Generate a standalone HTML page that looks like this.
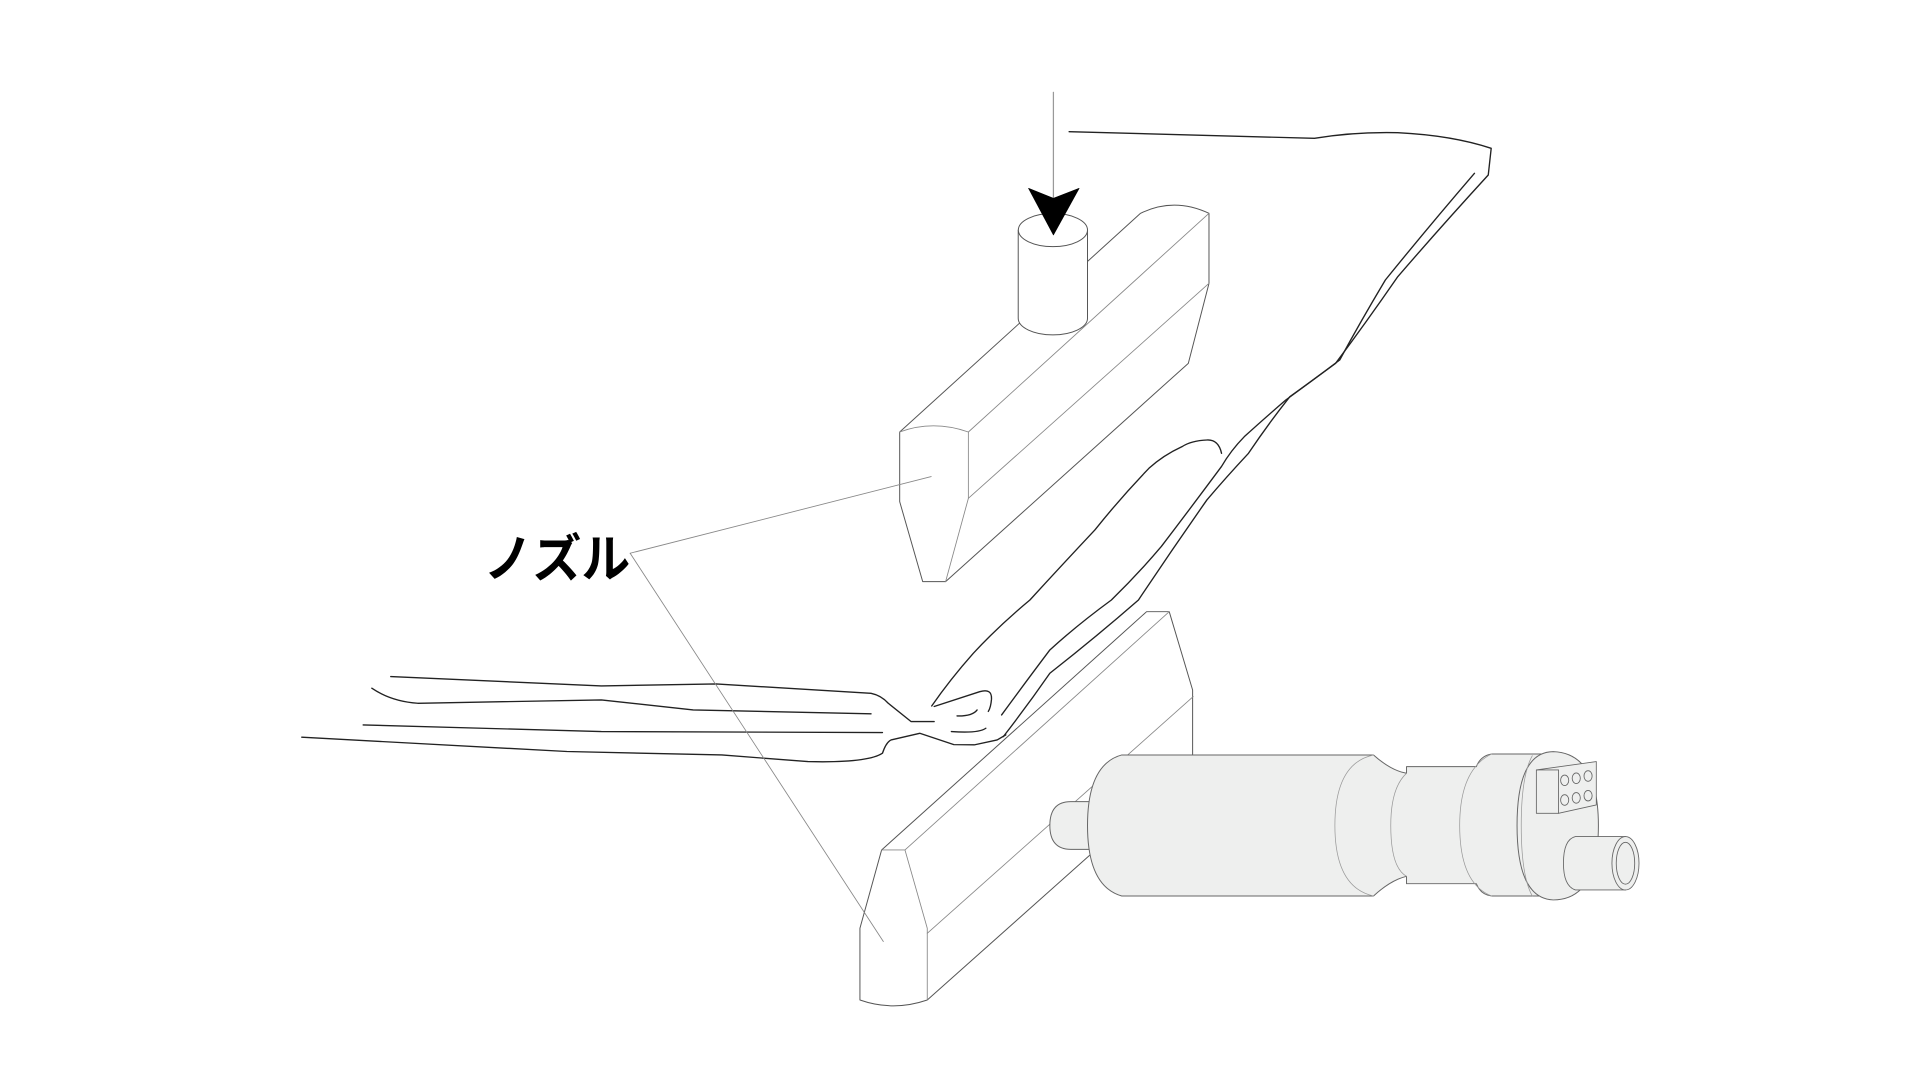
<!DOCTYPE html>
<html><head><meta charset="utf-8"><style>
html,body{margin:0;padding:0;background:#fff;width:1920px;height:1080px;overflow:hidden}
svg{display:block}
</style></head><body>
<svg width="1920" height="1080" viewBox="0 0 1560 877.5" preserveAspectRatio="none" xmlns="http://www.w3.org/2000/svg">
<g fill="none" stroke-linecap="round" stroke-linejoin="round">
<g stroke="#555" stroke-width="0.8" fill="#fff">
<path d="M731,351 L926.7,173.3 Q953.7,160 982.3,173.3 L982.3,230.2 L965.5,295.2 L768.3,472.6 L749.7,472.6 L731,407.6 Z"/>
</g>
<g stroke="#888" stroke-width="0.7">
<path d="M731,351 Q758,341 786.8,351 L786.8,404.9 L768.3,472.6"/>
<path d="M786.8,351 L982.3,173.3"/>
<path d="M786.8,404.9 L982.3,230.2"/>
</g>
<g stroke="#555" stroke-width="0.8" fill="#fff">
<path d="M827.3,186.9 L827.3,258.6 A28.1,13.5 0 0 0 883.6,258.6 L883.6,186.9"/>
<ellipse cx="855.5" cy="186.9" rx="28.1" ry="13.5"/>
</g>
<line x1="855.9" y1="75" x2="855.9" y2="165" stroke="#999" stroke-width="1"/>
<path d="M835.7,153 L855.9,161.1 L876.8,153 L855.9,190.9 Z" fill="#000" stroke="#000" stroke-width="0.5"/>
<g stroke="#555" stroke-width="0.8" fill="#fff">
<path d="M716.3,690.6 L931.6,497 L950,497 L969,560.6 L969,613.4 L885.6,694.7 L753.4,812.5 Q725.8,822 698.7,812.5 L698.7,754.2 Z"/>
</g>
<g stroke="#888" stroke-width="0.7">
<path d="M716.3,690.6 L735.3,690.6 L753.4,754.2 L753.4,812.5"/>
<path d="M735.3,690.6 L950,497"/>
<path d="M753.4,758.3 L969.5,566"/>
</g>
<g stroke="#222" stroke-width="1.1">
<path d="M868.7,107 L1068,112.4 Q1100,107 1135.7,107.8 Q1180,110 1211.6,120.5 L1209.2,142.2 Q1170,185 1135.7,224.8 Q1110,262 1085.2,295.2 Q1065,310 1044.7,325 Q1025,342 1011,354.8 Q1000,366 992.5,379 Q968,412 943.6,444 Q925,466 903,487.5 Q875,508 853,528.1 Q832,556 813.8,580.9"/>
<path d="M1198,140.8 Q1160,185 1125.6,227.5 Q1105,262 1088.5,292.5 Q1068,308 1048,322.3 Q1030,345 1014.4,368.3 Q996,388 980.6,406.2 Q952,447 925,487.5 Q890,518 853,547 Q835,573 815.2,598.5"/>
<path d="M992.5,368.3 Q990,357 980.6,357.5 Q968,358 960.4,362.9 Q945,370 933.5,380.5 Q910,405 889.6,430.6 Q862,460 836.8,487.5 Q812,508 790.8,530.8 Q772,552 757,573.6"/>
<path d="M317.5,549.7 L488.6,557.3 L581.8,555.7 L707.7,563.3 Q716,565 721.7,571.4 L740.3,586.3 L759,586.3"/>
<path d="M302.1,559.2 Q318,570 339.4,571.4 L488.6,568.7 L563.2,576.8 L707.7,580"/>
<path d="M295.1,589 L488.6,594.4 L717,595.2"/>
<path d="M245.2,599 L460.6,610.6 L586.5,613.4 L656.4,618.8 Q705,620 717,612 Q720,603 724,601.2 L747.3,595.8 L775,605 L791.6,605.2 L810.2,601.2 L817.2,597.1"/>
<path d="M759,574 L796,562 Q806,559 805.6,568 Q805,575 803,578"/>
<path d="M777.6,581.7 Q790,582 793.9,576.8"/>
<path d="M773,594.4 Q795,596 801,591.7"/>
</g>
<g stroke="#888" stroke-width="0.7">
<line x1="512" y1="449.5" x2="756.6" y2="387.2"/>
<line x1="512" y1="449.5" x2="717.7" y2="765"/>
</g>
<g stroke="#666" stroke-width="0.8" fill="#eeefee">
<path d="M870,651.3 L885.6,651.3 L885.6,690.1 L870,690.1 Q853,690 853,670.7 Q853,651.3 870,651.3 Z"/>
<path d="M911.4,613.4 L1116,613.4 Q1130,626 1142.8,628.3 L1142.8,622.9 L1199.5,622.9 Q1203,614 1212,612.6 L1253,612.6 L1253,728 L1212,728 Q1203,727 1199.5,718 L1142.8,718 L1142.8,712 Q1130,715 1116,728 L911.4,728 Q883.6,720 883.6,670.7 Q883.6,621 911.4,613.4 Z"/>
<path d="M1232.6,670.7 Q1232.6,611 1262,610.7 Q1298.7,612 1298.7,670.7 Q1298.7,731 1262,731.2 Q1232.6,730 1232.6,670.7 Z"/>
</g>
<g stroke="#999" stroke-width="0.6">
<path d="M1116,613.4 Q1084.6,620 1084.6,670.7 Q1084.6,721 1116,728"/>
<path d="M1142.8,628.3 Q1130,640 1130,670.7 Q1130,705 1142.8,712"/>
<path d="M1212,612.6 Q1186,625 1186,670.7 Q1186,718 1212,728"/>
<path d="M1245,614 Q1236,630 1236,670.7 Q1236,712 1245,728"/>
</g>
<g stroke="#666" stroke-width="0.7" fill="#eeefee">
<path d="M1248.3,625.6 L1297,618.8 L1297,654 L1266.3,660.8 L1248.3,660.8 Z"/>
<line x1="1266.3" y1="625.6" x2="1266.3" y2="660.8"/>
<line x1="1248.3" y1="625.6" x2="1266.3" y2="625.6"/>
<ellipse cx="1271.3" cy="634" rx="3.3" ry="4.3"/><ellipse cx="1280.7" cy="632.3" rx="3.3" ry="4.3"/><ellipse cx="1290.3" cy="630.5" rx="3.3" ry="4.3"/>
<ellipse cx="1271.3" cy="650" rx="3.3" ry="4.3"/><ellipse cx="1280.7" cy="648.3" rx="3.3" ry="4.3"/><ellipse cx="1290.3" cy="646.5" rx="3.3" ry="4.3"/>
<path d="M1280,679.7 L1320.7,679.7 L1320.7,723.1 L1280,723.1 Q1270.3,720 1270.3,701.4 Q1270.3,682 1280,679.7 Z"/>
<ellipse cx="1320.7" cy="701.4" rx="11" ry="21.7"/>
<ellipse cx="1320.7" cy="701.4" rx="7.5" ry="17"/>
</g>
</g>
<text x="393" y="469" font-family="'Liberation Sans','Noto Sans CJK JP',sans-serif" font-size="42" font-weight="bold" fill="#000" textLength="119" lengthAdjust="spacingAndGlyphs">ノズル</text>
</svg>
</body></html>
